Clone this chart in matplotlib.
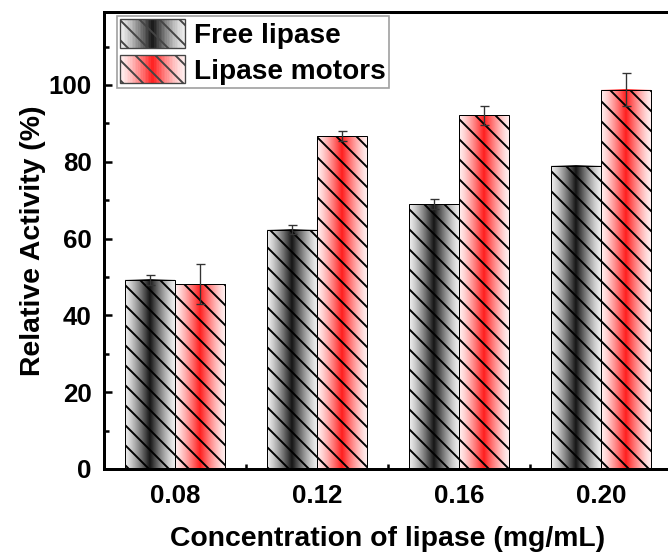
import numpy as np
import matplotlib as mpl
mpl.use('Agg')
import matplotlib.pyplot as plt
from matplotlib.patches import Rectangle
from matplotlib.legend_handler import HandlerBase

mpl.rc('font', family=['Liberation Sans', 'DejaVu Sans'], weight='bold', size=15.5)
mpl.rc('axes', labelweight='bold', labelsize=17)
mpl.rc('hatch', linewidth=1.15)

# data
concentrations = ['0.08', '0.12', '0.16', '0.20']
free_lipase = [49.3, 62.3, 69.0, 78.9]
free_err = [1.3, 1.2, 1.4, 0.0]
motor_lipase = [48.1, 86.7, 92.1, 98.7]
motor_err = [5.2, 1.2, 2.4, 4.3]
series_names = ['Free lipase', 'Lipase motors']

black_c = np.array([0.08, 0.08, 0.08])
red_c = np.array([1.0, 0.12, 0.12])
w = 0.352


def grad_row(c, n=64):
    t = np.linspace(0, 1, n)
    f = (1 - np.abs(2 * t - 1)) ** 1.3
    f = 0.08 + 0.92 * f
    return 1 - f[:, None] * (1 - c[None, :])


def grad_bar(ax, x0, h, c):
    ax.imshow(grad_row(c)[None, :, :], extent=[x0, x0 + w, 0, h],
              aspect='auto', interpolation='bilinear', zorder=1)


class GradHandler(HandlerBase):
    def __init__(self, c):
        HandlerBase.__init__(self)
        self.c = c

    def create_artists(self, legend, orig_handle, xdescent, ydescent,
                       width, height, fontsize, trans):
        arts = []
        rows = grad_row(self.c, 40)
        n = len(rows)
        for i in range(n):
            r = Rectangle((-xdescent + i * width / n, -ydescent), width / n + 0.3, height,
                          facecolor=rows[i], edgecolor='none', transform=trans)
            arts.append(r)
        top = Rectangle((-xdescent, -ydescent), width, height, facecolor='none',
                        edgecolor='#444444', hatch='\\\\', lw=0.8, transform=trans)
        arts.append(top)
        return arts


fig = plt.figure(figsize=(668 / 120., 554 / 120.), dpi=120)
ax = fig.add_axes([104 / 668., 85 / 554., 568 / 668., 457 / 554.])

x = np.arange(len(concentrations))

for i in range(len(x)):
    grad_bar(ax, x[i] - w, free_lipase[i], black_c)
    grad_bar(ax, x[i], motor_lipase[i], red_c)

ax.bar(x - w / 2, free_lipase, w, facecolor='none', edgecolor='black',
       hatch='\\\\', lw=0.6, zorder=2)
ax.bar(x + w / 2, motor_lipase, w, facecolor='none', edgecolor='black',
       hatch='\\\\', lw=0.6, zorder=2)

fe = np.array(free_err)
me = np.array(motor_err)
ax.errorbar((x - w / 2)[fe > 0], np.array(free_lipase)[fe > 0], yerr=fe[fe > 0],
            fmt='none', ecolor='#333333', elinewidth=0.8, capsize=2.7,
            capthick=0.8, zorder=3)
ax.errorbar((x + w / 2)[me > 0], np.array(motor_lipase)[me > 0], yerr=me[me > 0],
            fmt='none', ecolor='#333333', elinewidth=0.8, capsize=2.7,
            capthick=0.8, zorder=3)

ax.set_xlim(-0.5, 3.5)
ax.set_ylim(0, 119)
ax.set_xticks(x)
ax.set_xticklabels(concentrations)
ax.set_xticks(x[:-1] + 0.5, minor=True)
ax.set_yticks(range(0, 101, 20))
ax.set_yticks(range(10, 120, 20), minor=True)

for s in ax.spines.values():
    s.set_linewidth(1.8)
ax.tick_params(which='major', direction='in', length=5, width=1.5, pad=7.5)
ax.tick_params(which='minor', direction='in', length=3, width=1.5)
ax.tick_params(axis='x', which='major', length=0, pad=9)

ax.set_xlabel('Concentration of lipase (mg/mL)', labelpad=10.5)
ax.set_ylabel('Relative Activity (%)', labelpad=1.5)

h1 = Rectangle((0, 0), 1, 1)
h2 = Rectangle((0, 0), 1, 1)
leg = ax.legend([h1, h2], series_names, loc='upper left',
                bbox_to_anchor=(13 / 568., 1 - 4 / 457.), borderaxespad=0,
                handler_map={h1: GradHandler(black_c), h2: GradHandler(red_c)},
                handlelength=2.3, handleheight=1.2, labelspacing=0.2,
                handletextpad=0.33, borderpad=0.12, fancybox=False,
                framealpha=1, edgecolor='#a0a0a0', prop={'weight': 'bold', 'size': 16.8})
leg.get_frame().set_linewidth(1.0)

plt.savefig('out.png', dpi=120)
